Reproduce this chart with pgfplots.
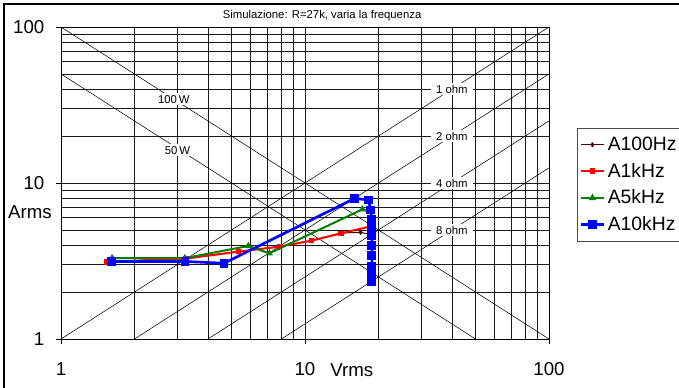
\documentclass[border=0pt]{standalone}
\usepackage{pgfplots}
\pgfplotsset{compat=1.18}
\usepackage{fontspec}
\setmainfont{Liberation Sans}
\definecolor{cA}{RGB}{70,10,10}
\definecolor{cB}{RGB}{255,0,0}
\definecolor{cC}{RGB}{0,128,0}
\definecolor{cD}{RGB}{0,0,255}
\begin{document}
\begin{tikzpicture}[x=1pt,y=1pt]
\useasboundingbox (0,0) rectangle (509.25,290.25);
\begin{axis}[
  at={(45.75pt,36pt)}, anchor=south west,
  scale only axis, width=366pt, height=234pt,
  xmode=log, ymode=log, xmin=1, xmax=100, ymin=1, ymax=100,
  xtick={1,10,100}, xticklabels={1,10,100},
  ytick={1,10,100}, yticklabels={1,10,100},
  grid=both,
  major grid style={black!90, line width=0.6pt},
  minor grid style={black!90, line width=0.6pt},
  axis line style={black, line width=0.7pt},
  tick style={black, line width=0.6pt},
  major tick length=4pt, minor tick length=0pt,
  tick align=outside, tick pos=left,
  /pgf/number format/assume math mode=true,
  tick label style={font=\fontsize{14}{16}\selectfont},
  xticklabel style={yshift=-10pt},
  yticklabel style={xshift=-5pt},
  title={Simulazione: R=27k, varia la frequenza},
  title style={font=\fontsize{8.5}{10}\selectfont, at={(axis description cs:0.535,1.038)}, anchor=center, yshift=0pt},
  every axis title shift=0pt,
  xlabel={Vrms},
  xlabel style={font=\fontsize{14}{16}\selectfont, at={(axis description cs:0.596,-0.0994)}, anchor=center},
  ylabel={Arms},
  ylabel style={font=\fontsize{14}{16}\selectfont, rotate=-90, at={(axis description cs:-0.0635,0.407)}, anchor=center},
  legend style={at={(axis description cs:1.057,0.676)}, anchor=north west,
    font=\fontsize{14.5}{17}\selectfont, draw=black!70, fill=white,
    row sep=4pt, inner xsep=2pt, inner ysep=4.5pt},
  legend cell align=left,
  clip=true,
]
% reference lines
\addplot[black, line width=0.4pt, forget plot] coordinates {(1,1) (100,100)};
\addplot[black, line width=0.4pt, forget plot] coordinates {(2,1) (100,50)};
\addplot[black, line width=0.4pt, forget plot] coordinates {(4,1) (100,25)};
\addplot[black, line width=0.4pt, forget plot] coordinates {(8,1) (100,12.5)};
\addplot[black, line width=0.4pt, forget plot] coordinates {(1,100) (100,1)};
\addplot[black, line width=0.4pt, forget plot] coordinates {(1,50) (50,1)};
\node[fill=white, inner xsep=4pt, inner ysep=1.5pt, font=\fontsize{8.5}{10}\selectfont] at (axis cs:40,40) {1 ohm};
\node[fill=white, inner xsep=4pt, inner ysep=1.5pt, font=\fontsize{8.5}{10}\selectfont] at (axis cs:40,20) {2 ohm};
\node[fill=white, inner xsep=4pt, inner ysep=1.5pt, font=\fontsize{8.5}{10}\selectfont] at (axis cs:40,10) {4 ohm};
\node[fill=white, inner xsep=4pt, inner ysep=1.5pt, font=\fontsize{8.5}{10}\selectfont] at (axis cs:40,5) {8 ohm};
\node[fill=white, inner xsep=2pt, inner ysep=1.5pt, font=\fontsize{8.5}{10}\selectfont] at (axis cs:2.9,34.5) {100\,W};
\node[fill=white, inner xsep=2pt, inner ysep=1.5pt, font=\fontsize{8.5}{10}\selectfont] at (axis cs:3.0,16.2) {50\,W};
% series
\addplot[cA, line width=0.8pt, mark=diamond*, mark size=1.4pt] coordinates {
 (1.54,3.12) (3.25,3.28) (5.33,3.63) (7.85,3.91) (10.65,4.27) (14.05,4.78) (16.9,4.83) (18.7,4.65)};
\addlegendentry{A100Hz}
\addplot[cB, line width=1.5pt, mark=square*, mark size=1.3pt] coordinates {
 (1.54,3.12) (3.25,3.28) (5.33,3.63) (7.85,3.91) (10.65,4.27) (14.05,4.76) (18.4,5.25)};
\addlegendentry{A1kHz}
\addplot[cC, line width=1.5pt, mark=triangle*, mark size=1.7pt] coordinates {
 (1.62,3.3) (3.22,3.3) (5.86,3.95) (7.14,3.54) (17.2,6.78) (18.6,6.6)};
\addlegendentry{A5kHz}
\addplot[cD, line width=2pt, mark=square*, mark size=2.3pt] coordinates {
 (1.61,3.14) (3.22,3.14) (4.66,3.06) (16.0,7.98) (18.2,7.78) (18.6,6.71) (18.8,5.85) (18.8,5.17) (18.8,4.59) (18.8,3.96) (18.8,3.42) (18.8,2.91) (18.8,2.60) (18.8,2.33)};
\addlegendentry{A10kHz}
\end{axis}
\draw[black, line width=1pt] (3,-20) -- (3,287.25) -- (540,287.25);
\end{tikzpicture}
\end{document}
